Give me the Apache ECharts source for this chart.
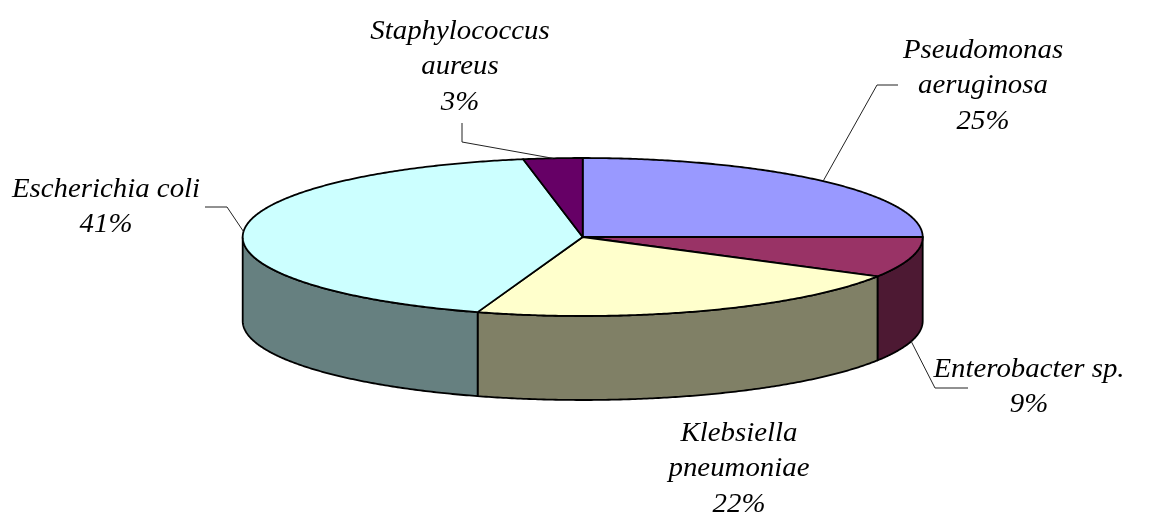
<!DOCTYPE html>
<html>
<head>
<meta charset="utf-8">
<style>
  html, body { margin: 0; padding: 0; background: #fff; }
  #chart { width: 1152px; height: 512px; }
</style>
<script src="https://cdn.jsdelivr.net/npm/echarts@6/dist/echarts.min.js"></script>
</head>
<body>
<div id="chart"></div>
<script>
  // slices run clockwise from 12 o'clock
  var species = ['Pseudomonas\naeruginosa', 'Enterobacter sp.', 'Klebsiella\npneumoniae', 'Escherichia coli', 'Staphylococcus\naureus']
  var percentLabels = [25, 9, 22, 41, 3]
  // share of the ring each slice takes up in the drawing
  var sliceShares = [25, 8.3, 21.7, 42.2, 2.8]
  var topColors = ['#9999FF', '#993366', '#FFFFCC', '#CCFFFF', '#660066']
  var wallColors = ['#4D4D80', '#4D1933', '#808066', '#668080', '#330033']

  // layout
  var cx = 582.7, cy = 237, rx = 340, ry = 79, depth = 84
  var labelPos = [[983, 86], [1029, 387], [739, 469], [106, 207], [460, 67]]
  // leader line: text end, elbow
  var leaders = [[[898, 85], [877, 85]], [[968, 388], [935, 388]], null, [[205, 207], [227, 207]], [[462, 123], [462, 142]]]

  var total = sliceShares.reduce(function (a, b) { return a + b }, 0)
  var starts = []
  sliceShares.reduce(function (sum, v, i) {
    starts[i] = sum / total * 360
    return sum + v
  }, 0)

  function onRim(deg, drop) {
    var r = deg * Math.PI / 180
    return [cx + rx * Math.sin(r), cy - ry * Math.cos(r) + (drop || 0)]
  }

  function arc(from, to, drop) {
    var pts = [], n = Math.max(2, Math.ceil(Math.abs(to - from) * 2))
    for (var i = 0; i <= n; i++) pts.push(onRim(from + (to - from) * i / n, drop))
    return pts
  }

  function sweep(i) {
    return [starts[i], starts[i] + sliceShares[i] / total * 360]
  }

  function renderWall(params, api) {
    var i = params.dataIndex, s = sweep(i)
    // only the front half of the side shows
    var from = Math.max(s[0], 90), to = Math.min(s[1], 270)
    if (to <= from) return {type: 'group', children: []}
    var pts = arc(from, to, 0).concat(arc(to, from, depth))
    return {
      type: 'polygon',
      shape: {points: pts},
      style: {fill: wallColors[i], stroke: '#000', lineWidth: 1.8, lineJoin: 'round'}
    }
  }

  function renderTop(params, api) {
    var i = params.dataIndex, s = sweep(i)
    var pts = [[cx, cy]].concat(arc(s[0], s[1], 0))
    return {
      type: 'polygon',
      shape: {points: pts},
      style: {fill: topColors[i], stroke: '#000', lineWidth: 1.8, lineJoin: 'round'}
    }
  }

  function renderLabel(params, api) {
    var i = params.dataIndex, s = sweep(i), mid = (s[0] + s[1]) / 2
    var children = [{
      type: 'text',
      x: labelPos[i][0],
      y: labelPos[i][1],
      scaleX: 1.03,
      style: {
        text: species[i] + '\n' + percentLabels[i] + '%',
        align: 'center',
        verticalAlign: 'middle',
        font: 'italic 28px "Liberation Serif", serif',
        lineHeight: 35.5,
        fill: '#000'
      }
    }]
    if (leaders[i]) {
      // the far end sits on the rim at the middle of the slice
      var drop = mid > 90 && mid < 270 ? depth : 0
      children.push({
        type: 'polyline',
        shape: {points: leaders[i].concat([onRim(mid, drop)])},
        style: {fill: null, stroke: '#222', lineWidth: 1}
      })
    }
    return {type: 'group', children: children}
  }

  var rows = species.map(function (name, i) {
    return {name: name, value: [sliceShares[i], percentLabels[i]]}
  })

  function layer(render, z) {
    return {
      type: 'custom',
      coordinateSystem: 'none',
      renderItem: render,
      data: rows,
      z: z,
      silent: true,
      animation: false
    }
  }

  var chart = echarts.init(document.getElementById('chart'))
  chart.setOption({
    backgroundColor: '#fff',
    animation: false,
    series: [layer(renderWall, 1), layer(renderTop, 2), layer(renderLabel, 3)]
  })
</script>
</body>
</html>
